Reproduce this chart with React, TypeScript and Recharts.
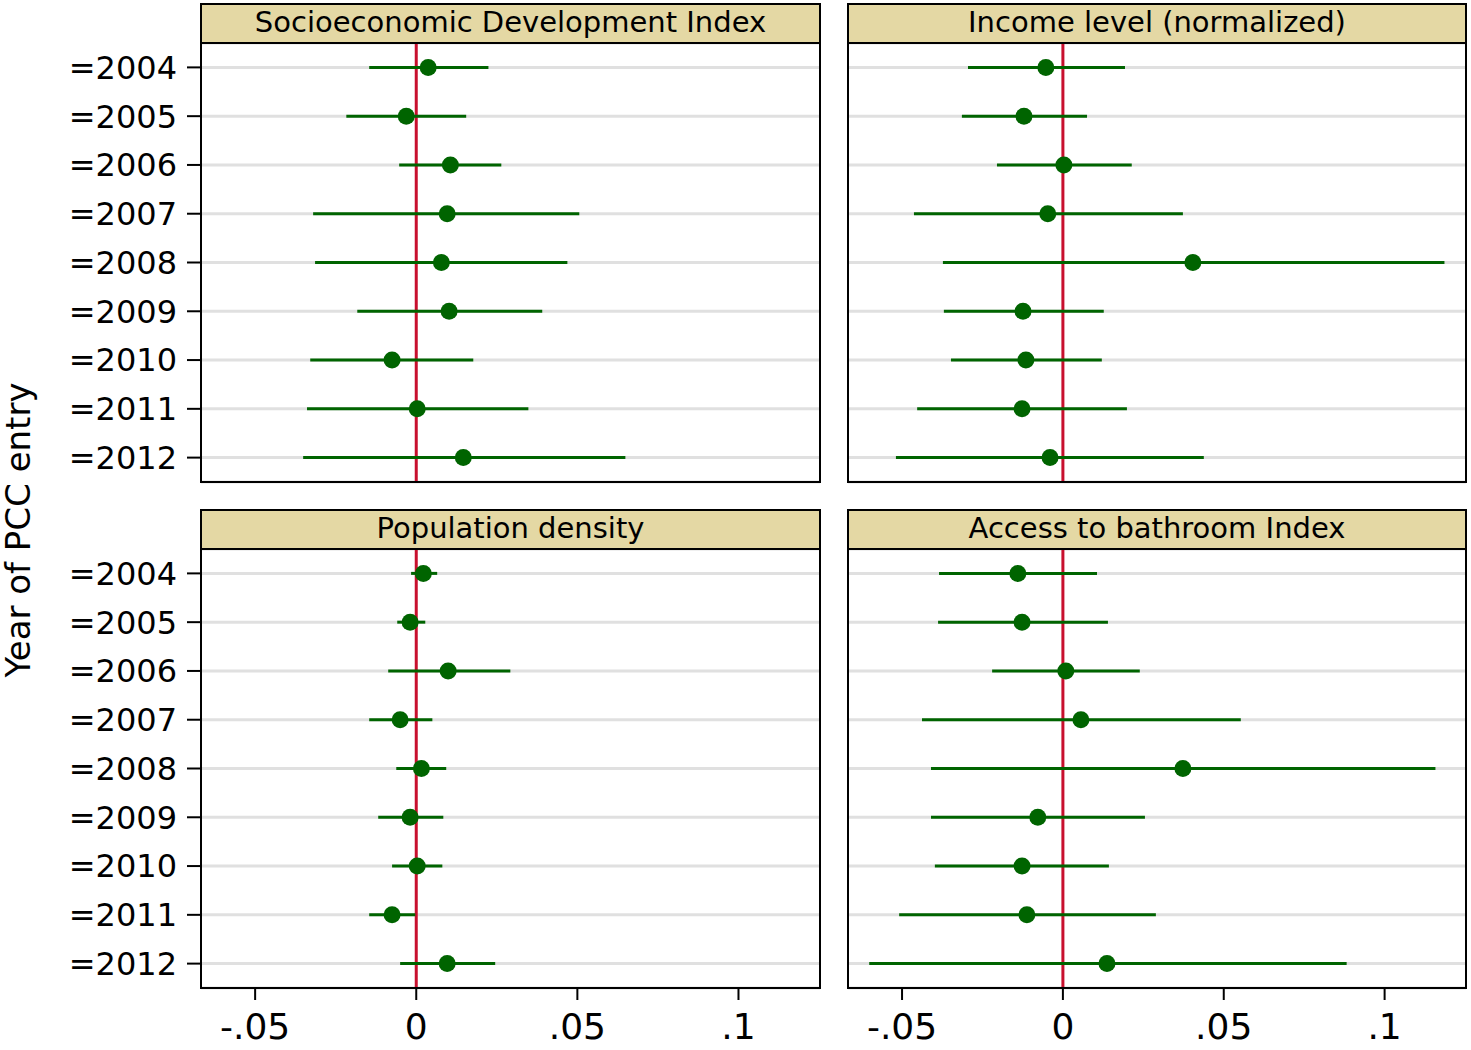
import React from "react";
import {
  ScatterChart,
  Scatter,
  XAxis,
  YAxis,
  CartesianGrid,
  ErrorBar,
  ReferenceLine,
} from "recharts";

const years = ["2004", "2005", "2006", "2007", "2008", "2009", "2010", "2011", "2012"];
const xTicks = [-0.05, 0, 0.05, 0.1];

// Socioeconomic Development Index
const sdiPoint = [0.0037, -0.0031, 0.0106, 0.0096, 0.0078, 0.0102, -0.0075, 0.0003, 0.0146];
const sdiLow = [-0.0146, -0.0217, -0.0053, -0.032, -0.0314, -0.0183, -0.0329, -0.0339, -0.0351];
const sdiHigh = [0.0224, 0.0155, 0.0264, 0.0506, 0.0469, 0.0391, 0.0177, 0.0348, 0.0649];

// Income level (normalized)
const incPoint = [-0.0053, -0.0121, 0.0003, -0.0047, 0.0404, -0.0124, -0.0115, -0.0127, -0.004];
const incLow = [-0.0295, -0.0314, -0.0205, -0.0463, -0.0373, -0.037, -0.0348, -0.0453, -0.0519];
const incHigh = [0.0193, 0.0075, 0.0214, 0.0373, 0.1186, 0.0127, 0.0121, 0.0199, 0.0438];

// Population density
const popPoint = [0.0022, -0.0019, 0.0099, -0.005, 0.0016, -0.0019, 0.0003, -0.0075, 0.0096];
const popLow = [-0.0016, -0.0059, -0.0087, -0.0146, -0.0062, -0.0118, -0.0075, -0.0146, -0.005];
const popHigh = [0.0065, 0.0028, 0.0292, 0.005, 0.0093, 0.0084, 0.0081, -0.0003, 0.0245];

// Access to bathroom Index
const bathPoint = [-0.014, -0.0127, 0.0009, 0.0056, 0.0373, -0.0078, -0.0127, -0.0112, 0.0137];
const bathLow = [-0.0385, -0.0388, -0.022, -0.0438, -0.041, -0.041, -0.0398, -0.0509, -0.0602];
const bathHigh = [0.0106, 0.014, 0.0239, 0.0553, 0.1158, 0.0255, 0.0143, 0.0289, 0.0882];

const GREEN = "#006400";
const RED = "#C8102E";
const FONT = "'DejaVu Sans', Verdana, sans-serif";

function rows(pt: number[], lo: number[], hi: number[]) {
  return years.map((_, i) => ({
    y: i + 1,
    x: pt[i],
    err: [pt[i] - lo[i], hi[i] - pt[i]],
  }));
}

function fmtX(v: number) {
  if (v === 0) return "0";
  return String(v).replace("0.", ".");
}

interface PanelProps {
  title: string;
  data: { y: number; x: number; err: number[] }[];
  left: number;
  top: number;
  plotLeft: number;
  plotTop: number;
  plotW: number;
  plotH: number;
  showY: boolean;
  showX: boolean;
}

function Panel({ title, data, left, top, plotLeft, plotTop, plotW, plotH, showY, showX }: PanelProps) {
  const yAxisW = showY ? 190 : 0;
  const mLeft = plotLeft - left - yAxisW;
  const mTop = plotTop - top;
  const xAxisH = showX ? 60 : 0;
  const width = mLeft + yAxisW + plotW + 8;
  const height = mTop + plotH + xAxisH + 4;
  return (
    <>
      <div style={{ position: "absolute", left, top }}>
        <ScatterChart
          width={width}
          height={height}
          margin={{ top: mTop, left: mLeft, right: 8, bottom: 4 }}
        >
          <CartesianGrid vertical={false} stroke="#e0e0e0" strokeWidth={3} />
          <XAxis
            type="number"
            dataKey="x"
            domain={[-0.0668, 0.1253]}
            allowDataOverflow
            ticks={xTicks}
            tickFormatter={fmtX}
            hide={!showX}
            height={xAxisH}
            axisLine={false}
            tickSize={12}
            tickMargin={13}
            tickLine={{ stroke: "#000", strokeWidth: 2 }}
            tick={{ fontSize: 36, fill: "#000", fontFamily: FONT }}
          />
          <YAxis
            type="number"
            dataKey="y"
            domain={[0.5, 9.5]}
            reversed
            ticks={[1, 2, 3, 4, 5, 6, 7, 8, 9]}
            tickFormatter={(v: number) => "=" + years[v - 1]}
            hide={!showY}
            width={yAxisW}
            axisLine={false}
            tickSize={14}
            tickMargin={10}
            tickLine={{ stroke: "#000", strokeWidth: 2 }}
            tick={{ fontSize: 32, fill: "#000", fontFamily: FONT }}
            interval={0}
          />
          <ReferenceLine x={0} stroke={RED} strokeWidth={3} />
          <Scatter
            data={data}
            fill={GREEN}
            isAnimationActive={false}
            shape={(p: any) => <circle cx={p.cx} cy={p.cy} r={8.5} fill={GREEN} />}
          >
            <ErrorBar dataKey="err" direction="x" width={0} stroke={GREEN} strokeWidth={3} />
          </Scatter>
        </ScatterChart>
      </div>
      <div
        style={{
          position: "absolute",
          left: plotLeft - 1,
          top: plotTop - 40,
          width: plotW + 2,
          height: 41,
          boxSizing: "border-box",
          border: "2px solid #000",
          background: "#E4D8A4",
          fontFamily: FONT,
          fontSize: 29,
          lineHeight: "35px",
          textAlign: "center",
          color: "#000",
          whiteSpace: "nowrap",
        }}
      >
        {title}
      </div>
      <div
        style={{
          position: "absolute",
          left: plotLeft - 1,
          top: plotTop - 1,
          width: plotW + 2,
          height: plotH + 2,
          boxSizing: "border-box",
          border: "2px solid #000",
          pointerEvents: "none",
        }}
      />
    </>
  );
}

export default function App() {
  return (
    <div
      style={{
        position: "absolute",
        left: 0,
        top: 0,
        width: 1471,
        height: 1050,
        background: "#fff",
        fontFamily: FONT,
      }}
    >
      <Panel
        title="Socioeconomic Development Index"
        data={rows(sdiPoint, sdiLow, sdiHigh)}
        left={0}
        top={0}
        plotLeft={201}
        plotTop={43}
        plotW={619}
        plotH={439}
        showY
        showX={false}
      />
      <Panel
        title="Income level (normalized)"
        data={rows(incPoint, incLow, incHigh)}
        left={840}
        top={0}
        plotLeft={848}
        plotTop={43}
        plotW={618}
        plotH={439}
        showY={false}
        showX={false}
      />
      <Panel
        title="Population density"
        data={rows(popPoint, popLow, popHigh)}
        left={0}
        top={500}
        plotLeft={201}
        plotTop={549}
        plotW={619}
        plotH={439}
        showY
        showX
      />
      <Panel
        title="Access to bathroom Index"
        data={rows(bathPoint, bathLow, bathHigh)}
        left={840}
        top={500}
        plotLeft={848}
        plotTop={549}
        plotW={618}
        plotH={439}
        showY={false}
        showX
      />
      <div
        style={{
          position: "absolute",
          left: 18,
          top: 530,
          transform: "translate(-50%, -50%) rotate(-90deg)",
          whiteSpace: "nowrap",
          fontSize: 34,
          color: "#000",
        }}
      >
        Year of PCC entry
      </div>
    </div>
  );
}
